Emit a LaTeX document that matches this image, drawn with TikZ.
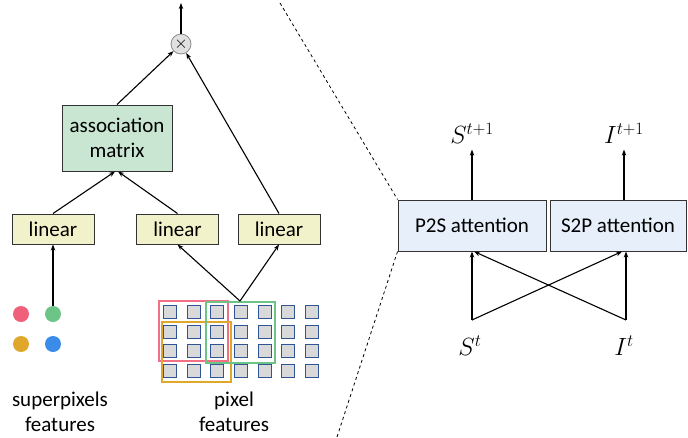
\documentclass[tikz,border=0pt]{standalone}
\usepackage{fontspec}
\setmainfont{Carlito}
\usepackage{xcolor}
\usetikzlibrary{arrows.meta, positioning}

\definecolor{assocfill}{HTML}{C9E6D2}
\definecolor{linfill}{HTML}{F2F2CA}
\definecolor{attfill}{HTML}{E6EFFA}
\definecolor{boxline}{HTML}{333333}
\definecolor{dotred}{HTML}{F0607A}
\definecolor{dotgreen}{HTML}{6CC487}
\definecolor{dotgold}{HTML}{DFA82A}
\definecolor{dotblue}{HTML}{3A8CE8}
\definecolor{pixline}{HTML}{2F5597}
\definecolor{pixfill}{HTML}{D9D9D9}

\begin{document}
\begin{tikzpicture}[x=1pt, y=-1pt,
    linbox/.style={rectangle, draw=boxline, fill=linfill, line width=1pt, minimum width=82pt, minimum height=30pt, inner sep=0pt, font=\fontsize{21}{24}\selectfont},
    assocbox/.style={rectangle, draw=boxline, fill=assocfill, line width=1pt, minimum width=110pt, minimum height=66pt, inner sep=0pt, align=center, font=\fontsize{21}{25}\selectfont},
    attbox/.style={rectangle, draw=boxline, fill=attfill, line width=1pt, minimum height=51pt, inner sep=0pt, font=\fontsize{21}{24}\selectfont},
    mulnode/.style={circle, draw=black!45, fill=black!12, line width=0.8pt, minimum size=20pt, inner sep=0pt, font=\fontsize{17}{17}\selectfont},
    spdot/.style={circle, minimum size=16pt, inner sep=0pt},
    pix/.style={rectangle, draw=pixline, fill=pixfill, line width=0.8pt, minimum size=13pt, inner sep=0pt},
    lbl/.style={align=center, font=\fontsize{21}{25}\selectfont},
    mathlbl/.style={font=\fontsize{23}{25}\selectfont},
    win/.style={line width=1.8pt},
    arrow/.style={-{Stealth[length=6pt,width=4.5pt]}, line width=1.1pt},
    zoomline/.style={dashed, line width=0.8pt}
]
\useasboundingbox (0,0) rectangle (688,437);

% left: association branch
\coordinate (out) at (181,3);
\node (mul) [mulnode] at (181,44) {$\times$};
\node (assoc) [assocbox] at (117,138) {association\\matrix};
\node (linS) [linbox] at (53,229) {linear};
\node (linA) [linbox] at (177.5,229) {linear};
\node (linB) [linbox] at (279,229) {linear};

% superpixels
\node (dotR) [spdot, fill=dotred] at (21,314) {};
\node (dotG) [spdot, fill=dotgreen] at (53,314) {};
\node (dotY) [spdot, fill=dotgold] at (21,344) {};
\node (dotB) [spdot, fill=dotblue] at (53,344) {};

% pixels
\foreach \c in {0,...,6}
  \foreach \r in {0,...,3}
    \node (p\c\r) [pix] at ({170+23.6*\c},{311.7+19.8*\r}) {};
\draw [win, draw=dotred!90] (159,301) rectangle (228,361);
\draw [win, draw=dotgold] (161.7,322) rectangle (231,382);
\draw [win, draw=dotgreen] (205.7,302) rectangle (275,363);
\coordinate (pixtop) at (240,301);

\node (supLbl) [lbl] at (60,412) {superpixels\\features};
\node (pixLbl) [lbl] at (234,412) {pixel\\features};

\draw [arrow] (mul) -- (out);
\draw [arrow] (assoc.north) -- (mul);
\draw [arrow] (linB.north) -- (mul);
\draw [arrow] (linS.north) -- ([xshift=-2pt]assoc.south);
\draw [arrow] (linA.north) -- ([xshift=1pt]assoc.south);
\draw [arrow] (dotG) -- (linS);
\draw [arrow] (pixtop) -- (linA.south);
\draw [arrow] (pixtop) -- (linB.south);

% right: attention block
\node (p2s) [attbox, minimum width=148pt] at (472,225.5) {P2S attention};
\node (s2p) [attbox, minimum width=136pt] at (618,225.5) {S2P attention};
\node (Snext) [mathlbl] at (472,133) {$S^{t+1}$};
\node (Inext) [mathlbl] at (624,133) {$I^{t+1}$};
\node (Scur) [mathlbl] at (470,346) {$S^{t}$};
\node (Icur) [mathlbl] at (624,346) {$I^{t}$};
\coordinate (Ssrc) at (472,320);
\coordinate (Isrc) at (626,320);

\draw [arrow] (p2s.north) -- ([yshift=-3pt]Snext.south);
\draw [arrow] ([xshift=6pt]s2p.north) -- ([yshift=-3pt]Inext.south);
\draw [arrow] (Ssrc) -- (p2s.south);
\draw [arrow] (Ssrc) -- ([xshift=4pt]s2p.south);
\draw [arrow] (Isrc) -- ([xshift=8pt]s2p.south);
\draw [arrow] (Isrc) -- ([xshift=2pt]p2s.south);

% zoom lines
\coordinate (zTop) at (280,3);
\coordinate (zBot) at (337,437);
\draw [zoomline] (zTop) -- (p2s.north west);
\draw [zoomline] (p2s.south west) -- (zBot);
\end{tikzpicture}
\end{document}
